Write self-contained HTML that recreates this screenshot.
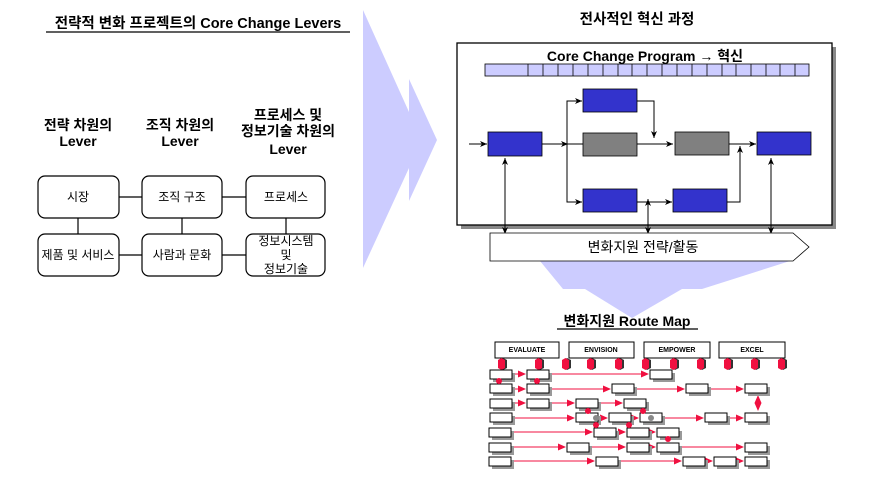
<!DOCTYPE html>
<html><head><meta charset="utf-8"><style>
body{margin:0;background:#fff}
svg{display:block}
text{font-family:"Liberation Sans","Noto Sans CJK KR",sans-serif}
</style></head><body>
<svg width="886" height="483" viewBox="0 0 886 483" xmlns="http://www.w3.org/2000/svg">
<defs>
<marker id="ak" markerWidth="8" markerHeight="8" refX="7" refY="4" orient="auto-start-reverse" markerUnits="userSpaceOnUse"><path d="M0,1 L7,4 L0,7 L2,4z" fill="#000"/></marker>
<marker id="ar" markerWidth="8" markerHeight="8" refX="7" refY="4" orient="auto-start-reverse" markerUnits="userSpaceOnUse"><path d="M0,0.5 L8,4 L0,7.5z" fill="#f01040"/></marker>
<g id="b"><rect x="3" y="3" width="22" height="9" fill="#999"/><rect x="0" y="0" width="22" height="9" fill="#fff" stroke="#000" stroke-width="1"/></g>
<g id="d"><polygon points="1,2 4,0 8,2 8,10 4,12 1,10" fill="#333" transform="translate(1,0)"/><polygon points="0,2 3.5,0 7,2 7,10 3.5,12 0,10" fill="#f01040"/></g>
</defs>

<text x="198" y="28" font-size="14.5" font-weight="bold" text-anchor="middle">전략적 변화 프로젝트의 Core Change Levers</text>
<line x1="46" y1="32" x2="350" y2="32" stroke="#000" stroke-width="1.3"/>

<g font-size="14" font-weight="bold" text-anchor="middle">
<text x="78" y="130">전략 차원의</text><text x="78" y="146">Lever</text>
<text x="180" y="130">조직 차원의</text><text x="180" y="146">Lever</text>
<text x="288" y="120">프로세스 및</text><text x="288" y="136">정보기술 차원의</text><text x="288" y="154">Lever</text>
</g>

<g stroke="#000" stroke-width="1.2">
<line x1="78" y1="218" x2="78" y2="234"/><line x1="182" y1="218" x2="182" y2="234"/><line x1="286" y1="218" x2="286" y2="234"/>
<line x1="119" y1="197" x2="142" y2="197"/><line x1="222" y1="197" x2="246" y2="197"/>
<line x1="119" y1="255" x2="142" y2="255"/><line x1="222" y1="255" x2="246" y2="255"/>
</g>
<g fill="#fff" stroke="#000" stroke-width="1.2">
<rect x="38" y="176" width="81" height="42" rx="7"/>
<rect x="142" y="176" width="80" height="42" rx="7"/>
<rect x="246" y="176" width="79" height="42" rx="7"/>
<rect x="38" y="234" width="81" height="42" rx="7"/>
<rect x="142" y="234" width="80" height="42" rx="7"/>
<rect x="246" y="234" width="79" height="42" rx="7"/>
</g>
<g font-size="12" text-anchor="middle">
<text x="78" y="201">시장</text><text x="182" y="201">조직 구조</text><text x="286" y="201">프로세스</text>
<text x="78" y="259">제품 및 서비스</text><text x="182" y="259">사람과 문화</text>
<text x="286" y="245">정보시스템</text><text x="286" y="259">및</text><text x="286" y="273">정보기술</text>
</g>

<polygon points="363,10 409,112 409,79 437,140 409,201 409,168 363,268" fill="#ccccff"/>

<text x="637" y="24" font-size="14.5" font-weight="bold" text-anchor="middle">전사적인 혁신 과정</text>

<polygon points="540,261 790,261 702,289 682,289 632,318 585,289 563,289" fill="#ccccff"/>

<rect x="461" y="47" width="375" height="182" fill="#888"/>
<rect x="457" y="43" width="375" height="182" fill="#fff" stroke="#000" stroke-width="1.3"/>
<text x="645" y="61" font-size="14" font-weight="bold" text-anchor="middle">Core Change Program → 혁신</text>
<rect x="485" y="64" width="324" height="12" fill="#ccccff" stroke="#000" stroke-width="0.8"/>
<g stroke="#000" stroke-width="0.8">
<line x1="528" y1="64" x2="528" y2="76"/><line x1="543" y1="64" x2="543" y2="76"/><line x1="558" y1="64" x2="558" y2="76"/><line x1="573" y1="64" x2="573" y2="76"/><line x1="588" y1="64" x2="588" y2="76"/><line x1="603" y1="64" x2="603" y2="76"/><line x1="618" y1="64" x2="618" y2="76"/><line x1="632" y1="64" x2="632" y2="76"/><line x1="647" y1="64" x2="647" y2="76"/><line x1="662" y1="64" x2="662" y2="76"/><line x1="677" y1="64" x2="677" y2="76"/><line x1="692" y1="64" x2="692" y2="76"/><line x1="707" y1="64" x2="707" y2="76"/><line x1="722" y1="64" x2="722" y2="76"/><line x1="736" y1="64" x2="736" y2="76"/><line x1="751" y1="64" x2="751" y2="76"/><line x1="766" y1="64" x2="766" y2="76"/><line x1="780" y1="64" x2="780" y2="76"/><line x1="795" y1="64" x2="795" y2="76"/>
</g>
<g stroke="#000" stroke-width="1" fill="none">
<line x1="469" y1="144" x2="487" y2="144" marker-end="url(#ak)"/>
<line x1="542" y1="144" x2="568" y2="144" marker-end="url(#ak)"/>
<line x1="566" y1="144" x2="583" y2="144"/>
<polyline points="567,202 567,101 582,101" marker-end="url(#ak)"/>
<polyline points="567,144 567,202 582,202" marker-end="url(#ak)"/>
<line x1="637" y1="144" x2="673" y2="144" marker-end="url(#ak)"/>
<polyline points="637,101 654,101 654,138" marker-end="url(#ak)"/>
<line x1="637" y1="202" x2="672" y2="202" marker-end="url(#ak)"/>
<polyline points="727,202 740,202 740,146" marker-end="url(#ak)"/>
<line x1="729" y1="144" x2="756" y2="144" marker-end="url(#ak)"/>
<line x1="505" y1="158" x2="505" y2="234" marker-end="url(#ak)" marker-start="url(#ak)"/>
<line x1="648" y1="199" x2="648" y2="234" marker-end="url(#ak)" marker-start="url(#ak)"/>
<line x1="771" y1="158" x2="771" y2="234" marker-end="url(#ak)" marker-start="url(#ak)"/>
</g>
<g stroke="#000" stroke-width="0.8">
<rect x="488" y="132" width="54" height="24" fill="#3333cc"/>
<rect x="583" y="89" width="54" height="23" fill="#3333cc"/>
<rect x="583" y="133" width="54" height="23" fill="#808080"/>
<rect x="675" y="132" width="54" height="23" fill="#808080"/>
<rect x="757" y="132" width="54" height="23" fill="#3333cc"/>
<rect x="583" y="189" width="54" height="23" fill="#3333cc"/>
<rect x="673" y="189" width="54" height="23" fill="#3333cc"/>
</g>
<polygon points="490,233 793,233 809,247 793,261 490,261" fill="#fff" stroke="#000" stroke-width="0.8"/>
<text x="643" y="252" font-size="14" text-anchor="middle">변화지원 전략/활동</text>

<text x="627" y="326" font-size="14" font-weight="bold" text-anchor="middle">변화지원 Route Map</text>
<line x1="557" y1="329" x2="698" y2="329" stroke="#000" stroke-width="1.2"/>
<g fill="#fff" stroke="#000" stroke-width="1">
<rect x="495" y="342" width="64" height="16"/><rect x="569" y="342" width="65" height="16"/>
<rect x="644" y="342" width="66" height="16"/><rect x="719" y="342" width="66" height="16"/>
</g>
<g font-size="7" font-weight="bold" text-anchor="middle">
<text x="527" y="352">EVALUATE</text><text x="601" y="352">ENVISION</text><text x="677" y="352">EMPOWER</text><text x="752" y="352">EXCEL</text>
</g>
<g>
<use href="#d" x="498" y="358"/><use href="#d" x="535" y="358"/><use href="#d" x="562" y="358"/><use href="#d" x="587" y="358"/><use href="#d" x="615" y="358"/><use href="#d" x="642" y="358"/><use href="#d" x="670" y="358"/><use href="#d" x="697" y="358"/><use href="#d" x="724" y="358"/><use href="#d" x="751" y="358"/><use href="#d" x="778" y="358"/>
</g>
<g stroke="#f01040" stroke-width="1" fill="none" marker-end="url(#ar)">
<line x1="514" y1="374" x2="525" y2="374"/><line x1="552" y1="374" x2="648" y2="374"/>
<line x1="514" y1="389" x2="525" y2="389"/><line x1="552" y1="389" x2="610" y2="389"/><line x1="636" y1="389" x2="684" y2="389"/><line x1="710" y1="389" x2="743" y2="389"/>
<line x1="514" y1="403" x2="525" y2="403"/><line x1="552" y1="403" x2="574" y2="403"/><line x1="600" y1="403" x2="622" y2="403"/>
<line x1="514" y1="418" x2="574" y2="418"/><line x1="600" y1="418" x2="607" y2="418"/><line x1="633" y1="418" x2="638" y2="418"/><line x1="664" y1="418" x2="703" y2="418"/><line x1="729" y1="418" x2="743" y2="418"/>
<line x1="514" y1="432" x2="592" y2="432"/><line x1="618" y1="432" x2="625" y2="432"/><line x1="651" y1="432" x2="655" y2="432"/>
<line x1="514" y1="447" x2="565" y2="447"/><line x1="591" y1="447" x2="625" y2="447"/><line x1="651" y1="447" x2="655" y2="447"/><line x1="681" y1="447" x2="743" y2="447"/>
<line x1="514" y1="461" x2="594" y2="461"/><line x1="620" y1="461" x2="681" y2="461"/><line x1="707" y1="461" x2="712" y2="461"/><line x1="738" y1="461" x2="743" y2="461"/>
<line x1="758" y1="396" x2="758" y2="410" marker-start="url(#ar)"/>
</g>
<g>
<use href="#b" x="490" y="370"/><use href="#b" x="527" y="370"/><use href="#b" x="650" y="370"/>
<use href="#b" x="490" y="384"/><use href="#b" x="527" y="384"/><use href="#b" x="612" y="384"/><use href="#b" x="686" y="384"/><use href="#b" x="745" y="384"/>
<use href="#b" x="490" y="399"/><use href="#b" x="527" y="399"/><use href="#b" x="576" y="399"/><use href="#b" x="624" y="399"/>
<use href="#b" x="490" y="413"/><use href="#b" x="576" y="413"/><use href="#b" x="609" y="413"/><use href="#b" x="640" y="413"/><use href="#b" x="705" y="413"/><use href="#b" x="745" y="413"/>
<use href="#b" x="489" y="428"/><use href="#b" x="594" y="428"/><use href="#b" x="627" y="428"/><use href="#b" x="657" y="428"/>
<use href="#b" x="489" y="443"/><use href="#b" x="567" y="443"/><use href="#b" x="627" y="443"/><use href="#b" x="657" y="443"/><use href="#b" x="745" y="443"/>
<use href="#b" x="489" y="457"/><use href="#b" x="596" y="457"/><use href="#b" x="683" y="457"/><use href="#b" x="714" y="457"/><use href="#b" x="745" y="457"/>
</g>
<g fill="#f01040">
<circle cx="499" cy="381" r="3"/><circle cx="537" cy="381" r="3"/><circle cx="588" cy="411" r="3"/><circle cx="643" cy="411" r="3"/><circle cx="596" cy="425" r="3"/><circle cx="629" cy="425" r="3"/><circle cx="668" cy="439" r="3"/>
</g>
<g fill="#888"><circle cx="596" cy="418" r="3"/><circle cx="651" cy="418" r="3"/></g>
</svg>
</body></html>
